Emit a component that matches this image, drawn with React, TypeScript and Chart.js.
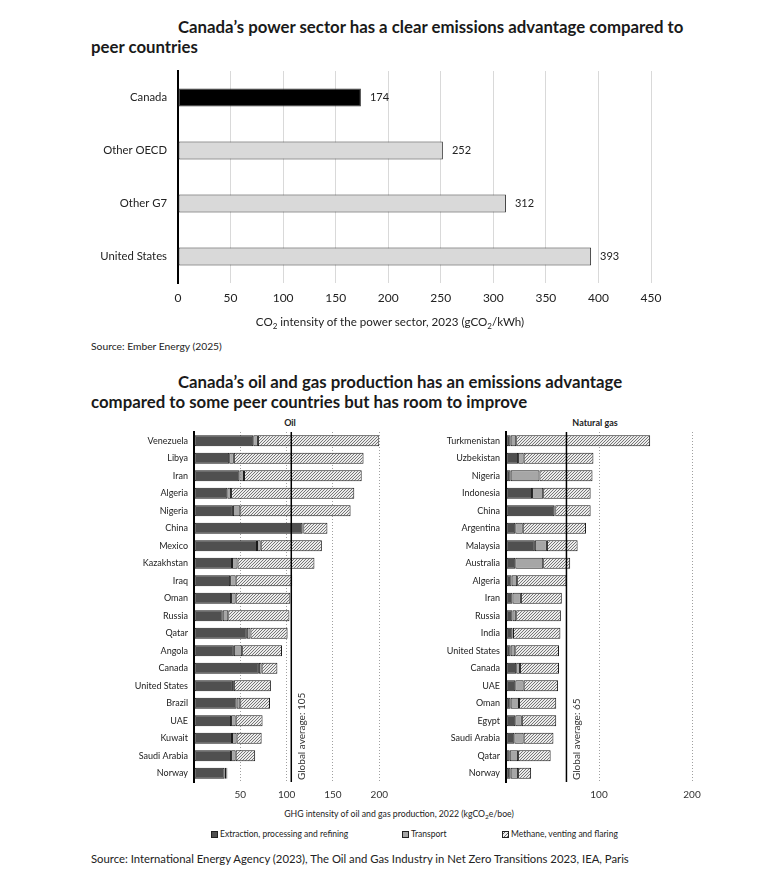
import React, { useEffect, useRef } from 'react';
import { Chart, registerables } from 'chart.js';
Chart.register(...registerables);

const FONT = 'Lato, "Open Sans", sans-serif';

// ---- Power sector chart data ----
const powerCategories = ['Canada', 'Other OECD', 'Other G7', 'United States'];
const powerValues = [174, 252, 312, 393];
const powerColors = ['#000000', '#d9d9d9', '#d9d9d9', '#d9d9d9'];
const powerMax = 450;
const powerStep = 50;

// ---- Oil chart data (kgCO2e/boe) ----
const oilCountries = ['Venezuela', 'Libya', 'Iran', 'Algeria', 'Nigeria', 'China', 'Mexico', 'Kazakhstan', 'Iraq', 'Oman', 'Russia', 'Qatar', 'Angola', 'Canada', 'United States', 'Brazil', 'UAE', 'Kuwait', 'Saudi Arabia', 'Norway'];
const oilExtraction = [64, 38, 49, 36, 42, 117, 68, 41, 39, 40, 31, 57, 43, 70, 42, 46, 40, 41, 40, 33];
const oilTransport = [5, 5, 5, 4, 8, 1, 4, 6, 6, 5, 6, 4, 9, 3, 1, 4, 5, 5, 5, 2];
const oilMethane = [131, 140, 127, 133, 119, 26, 66, 83, 61, 59, 66, 40, 43, 17, 40, 32, 29, 27, 21, 1];
const oilAverage = 105;
const oilMax = 200;
const oilStep = 50;

// ---- Natural gas chart data (kgCO2e/boe) ----
const gasCountries = ['Turkmenistan', 'Uzbekistan', 'Nigeria', 'Indonesia', 'China', 'Argentina', 'Malaysia', 'Australia', 'Algeria', 'Iran', 'Russia', 'India', 'United States', 'Canada', 'UAE', 'Oman', 'Egypt', 'Saudi Arabia', 'Qatar', 'Norway'];
const gasExtraction = [5, 13, 5, 28, 52, 10, 31, 10, 6, 7, 7, 7, 5, 11, 10, 5, 10, 9, 4, 5];
const gasTransport = [6, 6, 31, 12, 1, 8, 13, 30, 6, 9, 4, 0.5, 5, 4, 9, 9, 7, 10, 9, 8];
const gasMethane = [144, 75, 57, 51, 38, 68, 33, 29, 53, 44, 48, 51, 47, 42, 37, 40, 37, 32, 35, 14];
const gasAverage = 65;
const gasMax = 200;
const gasStep = 100;

const seriesNames = ['Extraction, processing and refining', 'Transport', 'Methane, venting and flaring'];
const seriesColors = ['#505050', '#a6a6a6'];

function makeHatch(): CanvasPattern | string {
  const c = document.createElement('canvas');
  c.width = 3;
  c.height = 3;
  const g = c.getContext('2d');
  if (!g) return '#ddd';
  g.fillStyle = '#ececec';
  g.fillRect(0, 0, 3, 3);
  g.strokeStyle = '#6a6a6a';
  g.lineWidth = 0.9;
  g.beginPath();
  g.moveTo(0, 3); g.lineTo(3, 0);
  g.moveTo(-1, 1); g.lineTo(1, -1);
  g.moveTo(2, 4); g.lineTo(4, 2);
  g.stroke();
  return g.createPattern(c, 'repeat') || '#ddd';
}

const valueLabelPlugin = {
  id: 'valueLabels',
  afterDatasetsDraw(chart: any) {
    const ctx = chart.ctx;
    const meta = chart.getDatasetMeta(0);
    const data = chart.data.datasets[0].data;
    ctx.save();
    ctx.font = `11px ${FONT}`;
    ctx.fillStyle = '#222';
    ctx.textAlign = 'left';
    ctx.textBaseline = 'middle';
    meta.data.forEach((el: any, i: number) => {
      ctx.fillText(String(data[i]), el.x + 9, el.y);
    });
    ctx.restore();
  },
};

const avgLinePlugin = {
  id: 'avgLine',
  afterDatasetsDraw(chart: any, _args: any, opts: any) {
    if (opts == null || opts.value == null) return;
    const { ctx, chartArea } = chart;
    const x = chart.scales.x.getPixelForValue(opts.value);
    ctx.save();
    ctx.strokeStyle = '#000';
    ctx.lineWidth = 1.5;
    ctx.beginPath();
    ctx.moveTo(x, chartArea.top);
    ctx.lineTo(x, chartArea.bottom);
    ctx.stroke();
    ctx.translate(x + 10, chartArea.bottom - 2);
    ctx.rotate(-Math.PI / 2);
    ctx.font = `10px ${FONT}`;
    ctx.fillStyle = '#333';
    ctx.textAlign = 'left';
    ctx.textBaseline = 'middle';
    ctx.fillText(opts.label, 0, 0);
    ctx.restore();
  },
};

function PowerChart() {
  const ref = useRef<HTMLCanvasElement>(null);
  useEffect(() => {
    if (!ref.current) return;
    const chart = new Chart(ref.current, {
      type: 'bar',
      data: {
        labels: powerCategories,
        datasets: [{
          data: powerValues,
          backgroundColor: powerColors,
          borderColor: '#333',
          borderWidth: 1,
          borderSkipped: false,
          categoryPercentage: 1,
          barPercentage: 0.34,
        }],
      },
      options: {
        indexAxis: 'y',
        animation: false,
        responsive: false,
        layout: { padding: { top: 11, right: 122, bottom: 0, left: 0 } },
        plugins: { legend: { display: false }, tooltip: { enabled: false } },
        scales: {
          x: {
            min: 0,
            max: powerMax,
            ticks: { stepSize: powerStep, font: { family: FONT, size: 12 }, color: '#222', padding: 8 },
            grid: { color: '#d9d9d9', drawTicks: false },
            border: { display: false },
            afterFit: (s: any) => { s.height = 39; },
          },
          y: {
            ticks: { font: { family: FONT, size: 11.3 }, color: '#222', padding: 11 },
            grid: { display: false, drawTicks: false },
            border: { display: true, color: '#000', width: 2 },
            afterFit: (s: any) => { s.width = 178; s.paddingTop = 0; s.paddingBottom = 0; },
          },
        },
      },
      plugins: [valueLabelPlugin],
    } as any);
    return () => chart.destroy();
  }, []);
  return <canvas ref={ref} width={773} height={262} style={{ position: 'absolute', left: 0, top: 60 }} />;
}

function StackChart(props: {
  labels: string[]; ext: number[]; tr: number[]; me: number[];
  avg: number; max: number; step: number;
  left: number; width: number; axisWidth: number; padRight: number;
}) {
  const ref = useRef<HTMLCanvasElement>(null);
  useEffect(() => {
    if (!ref.current) return;
    const hatch = makeHatch();
    const common = { borderColor: '#1a1a1a', borderWidth: 1, borderSkipped: false, categoryPercentage: 1, barPercentage: 0.62 };
    const chart = new Chart(ref.current, {
      type: 'bar',
      data: {
        labels: props.labels,
        datasets: [
          { label: seriesNames[0], data: props.ext, backgroundColor: seriesColors[0], ...common },
          { label: seriesNames[1], data: props.tr, backgroundColor: seriesColors[1], ...common },
          { label: seriesNames[2], data: props.me, backgroundColor: hatch, ...common },
        ],
      },
      options: {
        indexAxis: 'y',
        animation: false,
        responsive: false,
        layout: { padding: { top: 11, right: props.padRight, bottom: 0, left: 0 } },
        plugins: {
          legend: { display: false },
          tooltip: { enabled: false },
          avgLine: { value: props.avg, label: `Global average: ${props.avg}` },
        },
        scales: {
          x: {
            stacked: true,
            min: 0,
            max: props.max,
            ticks: {
              stepSize: props.step,
              font: { family: FONT, size: 10 },
              color: '#333',
              padding: 7,
              callback: (v: any) => (v === 0 ? '' : String(v)),
            },
            grid: { color: '#a0a0a0', drawTicks: false, tickBorderDash: [1, 2], borderDash: [1, 2] } as any,
            border: { display: false, dash: [1, 2] },
            afterFit: (s: any) => { s.height = 24; },
          },
          y: {
            stacked: true,
            ticks: { font: { family: FONT, size: 9 }, color: '#222', padding: 6, autoSkip: false },
            grid: { display: false, drawTicks: false },
            border: { display: true, color: '#000', width: 2 },
            afterFit: (s: any) => { s.width = props.axisWidth; s.paddingTop = 0; s.paddingBottom = 0; },
          },
        },
      },
      plugins: [avgLinePlugin],
    } as any);
    return () => chart.destroy();
  }, []);
  return <canvas ref={ref} width={props.width} height={385} style={{ position: 'absolute', left: props.left, top: 421 }} />;
}

const txt = (extra: React.CSSProperties): React.CSSProperties => ({
  position: 'absolute', whiteSpace: 'nowrap', fontFamily: FONT, color: '#222', lineHeight: 1, ...extra,
});

const legendBox = (bg: string): React.CSSProperties => ({
  display: 'inline-block', width: 5, height: 5, border: '1px solid #222', background: bg, marginRight: 2, verticalAlign: 'middle',
});

export default function App() {
  const hatchCss = 'repeating-linear-gradient(-45deg, #6a6a6a 0 1px, #ececec 1px 2.5px)';
  return (
    <div style={{ position: 'absolute', left: 0, top: 0, width: 773, height: 869, background: '#fff', overflow: 'hidden' }}>
      <div style={txt({ left: 178, top: 19, fontSize: 16.8, fontWeight: 700, color: '#1a1a1a' })}>Canada’s power sector has a clear emissions advantage compared to</div>
      <div style={txt({ left: 91, top: 39, fontSize: 16.8, fontWeight: 700, color: '#1a1a1a' })}>peer countries</div>
      <PowerChart />
      <div style={txt({ left: 390, top: 316, fontSize: 11.6, transform: 'translateX(-50%)' })}>
        CO<sub style={{ fontSize: 8, verticalAlign: -3 }}>2</sub> intensity of the power sector, 2023 (gCO<sub style={{ fontSize: 8, verticalAlign: -3 }}>2</sub>/kWh)
      </div>
      <div style={txt({ left: 91, top: 341, fontSize: 10.3 })}>Source: Ember Energy (2025)</div>

      <div style={txt({ left: 178, top: 374, fontSize: 16.8, fontWeight: 700, color: '#1a1a1a' })}>Canada’s oil and gas production has an emissions advantage</div>
      <div style={txt({ left: 91, top: 394, fontSize: 16.8, fontWeight: 700, color: '#1a1a1a' })}>compared to some peer countries but has room to improve</div>
      <div style={txt({ left: 290, top: 418, fontSize: 9, fontWeight: 700, transform: 'translateX(-50%)' })}>Oil</div>
      <div style={txt({ left: 595, top: 418, fontSize: 9, fontWeight: 700, transform: 'translateX(-50%)' })}>Natural gas</div>

      <StackChart labels={oilCountries} ext={oilExtraction} tr={oilTransport} me={oilMethane}
        avg={oilAverage} max={oilMax} step={oilStep} left={0} width={395} axisWidth={194} padRight={12} />
      <StackChart labels={gasCountries} ext={gasExtraction} tr={gasTransport} me={gasMethane}
        avg={gasAverage} max={gasMax} step={gasStep} left={400} width={310} axisWidth={106} padRight={18} />

      <div style={txt({ left: 399, top: 810, fontSize: 8.7, transform: 'translateX(-50%)' })}>
        GHG intensity of oil and gas production, 2022 (kgCO<sub style={{ fontSize: 6.5, verticalAlign: -2 }}>2</sub>e/boe)
      </div>
      <div style={txt({ left: 211, top: 830, fontSize: 8.5 })}><span style={legendBox(seriesColors[0])} />{seriesNames[0]}</div>
      <div style={txt({ left: 402, top: 830, fontSize: 8.5 })}><span style={legendBox(seriesColors[1])} />{seriesNames[1]}</div>
      <div style={txt({ left: 502, top: 830, fontSize: 8.5 })}><span style={legendBox(hatchCss)} />{seriesNames[2]}</div>
      <div style={txt({ left: 91, top: 853, fontSize: 11.3 })}>Source: International Energy Agency (2023), The Oil and Gas Industry in Net Zero Transitions 2023, IEA, Paris</div>
    </div>
  );
}
